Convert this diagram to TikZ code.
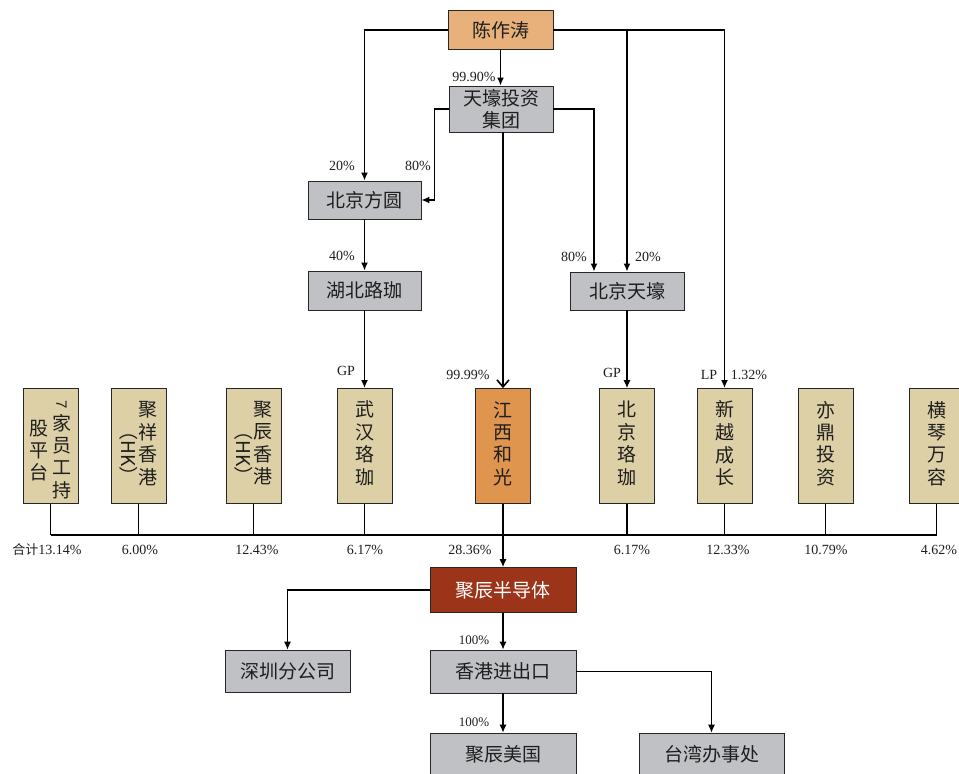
\documentclass[tikz,border=0pt]{standalone}
\usepackage{fontspec}
\setmainfont{Liberation Serif}
\newfontfamily\cjk{Noto Sans CJK SC}
\usetikzlibrary{arrows.meta,positioning,calc}
\definecolor{peach}{HTML}{E8B07A}
\definecolor{boxgray}{HTML}{C0C1C4}
\definecolor{tan}{HTML}{DDCFA6}
\definecolor{jxorange}{HTML}{E0954F}
\definecolor{jcred}{HTML}{9B3419}
\definecolor{txt}{HTML}{1E1E1E}
\newcommand{\vcolumn}[1]{$\vcenter{\hbox{\begin{tabular}{@{}c@{}}#1\end{tabular}}}$}
\begin{document}
\begin{tikzpicture}[x=1pt,y=-1pt,
  box/.style={draw=black!85,line width=0.8pt,text=txt,font=\cjk\fontsize{19}{22}\selectfont,inner sep=0pt,align=center},
  graybox/.style={box,fill=boxgray},
  tanbox/.style={box,fill=tan,minimum width=55pt,minimum height=115pt},
  pct/.style={font=\fontsize{14}{16}\selectfont,text=txt,inner sep=0pt},
  thk/.style={line width=1.6pt,draw=black},
  thn/.style={line width=1.1pt,draw=black},
  arr/.style={-{Latex[length=8pt,width=7pt]}},
  barb/.style={-{Straight Barb[length=7pt,width=12pt,line width=1.6pt]}}
]
\useasboundingbox (0,0) rectangle (959,774);
% top nodes
\node[box,fill=peach,minimum width=105pt,minimum height=39pt] (chen) at (500.5,30) {陈作涛};
\node[graybox,minimum width=104pt,minimum height=46pt] (th) at (501,109) {天壕投资\\集团};
\node[graybox,minimum width=113pt,minimum height=38pt] (fy) at (364.5,200) {北京方圆};
\node[graybox,minimum width=113pt,minimum height=39pt] (hb) at (364.5,290.5) {湖北路珈};
\node[graybox,minimum width=114pt,minimum height=38pt] (bjth) at (627,291) {北京天壕};
% row of shareholders
\node[tanbox] (b7) at (50.5,446) {\raisebox{-6pt}{\vcolumn{股\\平\\台}}\hspace{3pt}\raisebox{1pt}{\vcolumn{\raisebox{3pt}{\rotatebox{-90}{\fontspec{Liberation Sans}\fontsize{15}{15}\selectfont 7}}\\[4pt]家\\员\\工\\持}}};
\node[tanbox] (jx) at (138.5,446) {\vcolumn{\rotatebox{-90}{（HK）}}\hspace{1pt}\vcolumn{聚\\祥\\香\\港}};
\node[tanbox] (jchk) at (253.5,446) {\vcolumn{\rotatebox{-90}{（HK）}}\hspace{1pt}\vcolumn{聚\\辰\\香\\港}};
\node[tanbox] (whlj) at (364.5,446) {\vcolumn{武\\汉\\珞\\珈}};
\node[tanbox,fill=jxorange] (jxhg) at (503,446) {\vcolumn{江\\西\\和\\光}};
\node[tanbox] (bjlj) at (627,446) {\vcolumn{北\\京\\珞\\珈}};
\node[tanbox] (xy) at (724.5,446) {\vcolumn{新\\越\\成\\长}};
\node[tanbox] (yd) at (825.5,446) {\vcolumn{亦\\鼎\\投\\资}};
\node[tanbox] (hq) at (936.5,446) {\vcolumn{横\\琴\\万\\容}};
% lower nodes
\node[box,fill=jcred,text=white,minimum width=146pt,minimum height=45pt] (jc) at (503,590) {聚辰半导体};
\node[graybox,minimum width=125pt,minimum height=42pt] (sz) at (287.5,671) {深圳分公司};
\node[graybox,minimum width=146pt,minimum height=43pt] (hk) at (503,671.5) {香港进出口};
\node[graybox,minimum width=146pt,minimum height=42pt] (us) at (503,754) {聚辰美国};
\node[graybox,minimum width=145pt,minimum height=42pt] (tw) at (711.5,754) {台湾办事处};
% top connectors
\draw[thk,arr] (chen.west) -| (fy.north);
\draw[thk,arr] (chen.south) -- (chen.south |- th.north);
\draw[thk,arr] (chen.east) -| (bjth.north);
\draw[thk,arr] (chen.east) -| (xy.north);
\draw[thk,arr] (th.west) -- ++(-14,0) |- (fy.east);
\draw[thk,arr] (th.east) -| ([xshift=-33pt]bjth.north);
\draw[thk,barb] (jxhg.north |- th.south) -- (jxhg.north);
\draw[thk,arr] (fy.south) -- (hb.north);
\draw[thk,arr] (hb.south) -- (whlj.north);
\draw[thn,arr] (bjth.south) -- (bjlj.north);
% labels top
\node[pct] (l1) at (342,166) {20\%};
\node[pct] (l2) at (418,166) {80\%};
\node[pct] (l3) at (474,77) {99.90\%};
\node[pct] (l4) at (342,256) {40\%};
\node[pct] (l5) at (574,257) {80\%};
\node[pct] (l6) at (648,257) {20\%};
\node[pct] (l7) at (346,371) {GP};
\node[pct] (l8) at (468,375) {99.99\%};
\node[pct] (l9) at (612,373) {GP};
\node[pct] (l10) at (709,375) {LP};
\node[pct] (l11) at (749,375) {1.32\%};
% bus
\coordinate (bus) at (0,535);
\foreach \n in {b7,jx,jchk,whlj,jxhg,bjlj,xy,yd,hq}{
  \draw[thn] (\n.south) -- (\n.south |- bus);
}
\draw[thn] (b7.south |- bus) -- (hq.south |- bus);
\draw[thn,arr] (jxhg.south |- bus) -- (jc.north);
% bus labels
\node[pct] (p1) at (47,550) {{\cjk\fontsize{13}{15}\selectfont 合计}13.14\%};
\node[pct] (p2) at (140,550) {6.00\%};
\node[pct] (p3) at (257,550) {12.43\%};
\node[pct] (p4) at (365,550) {6.17\%};
\node[pct] (p5) at (470,550) {28.36\%};
\node[pct] (p6) at (632,550) {6.17\%};
\node[pct] (p7) at (728,550) {12.33\%};
\node[pct] (p8) at (826,550) {10.79\%};
\node[pct] (p9) at (939,550) {4.62\%};
% lower connectors
\draw[thn,arr] (jc.west) -| (sz.north);
\draw[thn,arr] (jc.south) -- (hk.north);
\draw[thn,arr] (hk.south) -- (us.north);
\draw[thn,arr] (hk.east) -| (tw.north);
\node[pct,font=\fontsize{13}{15}\selectfont] (q1) at (474,640) {100\%};
\node[pct,font=\fontsize{13}{15}\selectfont] (q2) at (474,722) {100\%};
\end{tikzpicture}
\end{document}
